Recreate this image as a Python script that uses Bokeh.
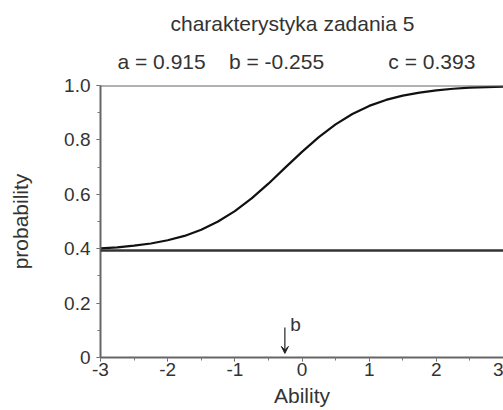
from bokeh.plotting import figure
from bokeh.models import Span, Label, Arrow, VeeHead, FixedTicker, ColumnDataSource, Range1d, Title
from bokeh.embed import file_html
from bokeh.resources import INLINE

# ---- data ----
title_text = "charakterystyka zadania 5"
a_param = 0.915
b_param = -0.255
c_param = 0.393

ability = [-3.0, -2.75, -2.5, -2.25, -2.0, -1.75, -1.5, -1.25, -1.0, -0.75, -0.5, -0.25,
           0.0, 0.25, 0.5, 0.75, 1.0, 1.25, 1.5, 1.75, 2.0, 2.25, 2.5, 2.75, 3.0]
probability = [0.401, 0.405, 0.411, 0.419, 0.431, 0.447, 0.470, 0.500, 0.538, 0.585, 0.639, 0.698,
               0.756, 0.810, 0.857, 0.895, 0.925, 0.947, 0.963, 0.974, 0.982, 0.988, 0.992, 0.994, 0.996]

x_ticks = [-3, -2, -1, 0, 1, 2, 3]
x_tick_labels = ["-3", "-2", "-1", "0", "1", "2", "3"]
x_minor = [-3, -2.5, -2, -1.5, -1, -0.5, 0, 0.5, 1, 1.5, 2, 2.5, 3]
y_ticks = [0, 0.2, 0.4, 0.6, 0.8, 1.0]
y_tick_labels = ["0", "0.2", "0.4", "0.6", "0.8", "1.0"]
y_minor = [0, 0.1, 0.2, 0.3, 0.4, 0.5, 0.6, 0.7, 0.8, 0.9, 1.0]

FONT = "Liberation Sans"
TXT = "#333333"
NB = "\u00a0"

p = figure(width=503, height=410, output_backend="svg", toolbar_location=None,
           x_range=Range1d(-3, 3), y_range=Range1d(0, 1),
           min_border_left=100, min_border_right=0, min_border_top=85, min_border_bottom=53)
p.outline_line_color = None
p.grid.visible = False
p.background_fill_color = "white"
p.border_fill_color = "white"

src = ColumnDataSource(dict(x=ability, y=probability))
p.line("x", "y", source=src, line_color="#111111", line_width=2.2)

p.add_layout(Span(location=1.0, dimension="width", line_color="#666666", line_width=2))
p.add_layout(Span(location=c_param, dimension="width", line_color="#333333", line_width=2.5))

# axes
xa = p.xaxis[0]
xa.ticker = FixedTicker(ticks=x_ticks, minor_ticks=x_minor)
xa.major_label_overrides = {t: l for t, l in zip(x_ticks, x_tick_labels)}
xa.axis_label = "Ability"
ya = p.yaxis[0]
ya.ticker = FixedTicker(ticks=y_ticks, minor_ticks=y_minor)
ya.major_label_overrides = {t: l for t, l in zip(y_ticks, y_tick_labels)}
ya.axis_label = "probability"
for ax in (xa, ya):
    ax.axis_line_color = "#666666"
    ax.axis_line_width = 2
    ax.major_tick_line_color = "#555555"
    ax.minor_tick_line_color = "#777777"
    ax.major_tick_out = 4
    ax.major_tick_in = 0
    ax.minor_tick_out = 3
    ax.minor_tick_in = 0
    ax.major_label_text_font = FONT
    ax.major_label_text_font_size = "19px"
    ax.major_label_text_color = TXT
    ax.axis_label_text_font = FONT
    ax.axis_label_text_font_size = "21px"
    ax.axis_label_text_font_style = "normal"
    ax.axis_label_text_color = TXT
xa.major_label_standoff = 1
xa.axis_label_standoff = 5
ya.major_label_standoff = 6
ya.axis_label_standoff = 29

# arrow to b
p.add_layout(Arrow(x_start=b_param, y_start=0.11, x_end=b_param, y_end=0.015,
                   line_color="#222222", line_width=1.2,
                   end=VeeHead(size=7, line_color="#222222", fill_color="#222222")))
p.add_layout(Label(x=b_param + 0.08, y=0.12, text="b", text_font=FONT, text_font_size="19px",
                   text_color=TXT, text_baseline="middle"))

# small spacer row, then parameter line, then title above it
spacer = Title(text=NB, align="left", standoff=0, text_font=FONT, text_font_size="5px",
               text_color="white")
p.add_layout(spacer, "above")
param_text = ("a = %.3f" % a_param) + NB * 4 + ("b = %.3f" % b_param) + NB * 11 + ("c = %.3f" % c_param)
sub = Title(text=param_text, align="left", offset=17, standoff=10,
            text_font=FONT, text_font_size="21px", text_font_style="normal", text_color=TXT)
p.add_layout(sub, "above")
ttl = Title(text=title_text, align="left", offset=70, standoff=16,
            text_font=FONT, text_font_size="21px", text_font_style="normal", text_color=TXT)
p.add_layout(ttl, "above")

open("out.html", "w").write(file_html(p, INLINE))
